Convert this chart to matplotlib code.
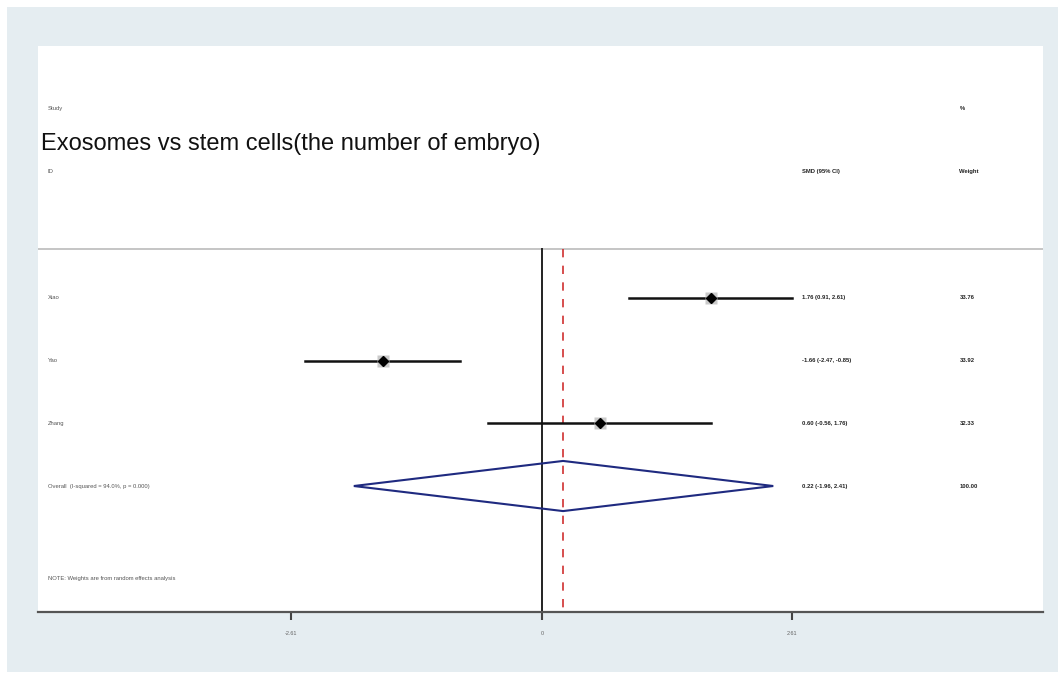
import matplotlib.pyplot as plt
from matplotlib.patches import Rectangle, Polygon

plt.rcParams['font.family'] = ['Liberation Sans', 'DejaVu Sans']

studies = ['Xiao', 'Yao', 'Zhang']
smd = [1.76, -1.66, 0.60]
lower = [0.91, -2.47, -0.56]
upper = [2.61, -0.85, 1.76]
weights = [33.76, 33.92, 32.33]

overall_label = 'Overall  (I-squared = 94.0%, p = 0.000)'
overall = 0.22
overall_lo = -1.96
overall_hi = 2.41
overall_weight = 100.00

title = 'Exosomes vs stem cells(the number of embryo)'
note = 'NOTE: Weights are from random effects analysis'

W, H = 1058, 677
fig = plt.figure(figsize=(W / 100, H / 100), dpi=100)
fig.patch.set_facecolor('white')

# light blue-grey frame behind the plot region
bg = fig.add_axes([0, 0, 1, 1], zorder=0)
bg.set_axis_off()
bg.set_xlim(0, 1)
bg.set_ylim(0, 1)
bg.add_patch(Rectangle((7 / W, 5 / H), (W - 7) / W, (H - 12) / H,
                       facecolor='#e5edf1', edgecolor='none'))

ax = fig.add_axes([38 / W, (H - 612) / H, (1043 - 38) / W, (612 - 46) / H],
                  zorder=1)
ax.set_facecolor('white')
ax.set_xlim(-5.25, 5.22)
ax.set_ylim(5.01, -4.02)

for s in ['top', 'left', 'right']:
    ax.spines[s].set_visible(False)
ax.spines['bottom'].set_color('#555555')
ax.spines['bottom'].set_linewidth(1.6)

xmax = max(abs(v) for v in lower + upper)
ax.set_xticks([-xmax, 0, xmax])
ax.set_xticklabels([f'-{xmax:.2f}', '0', f'{xmax:.2f}'])
ax.tick_params(axis='x', length=6, width=1.5, color='#444444',
               labelsize=4, labelcolor='#666666', pad=8)
ax.set_yticks([])

col_study = -5.15
col_ci = 2.71
col_w = 4.35
txt = dict(fontsize=4.2, va='center')

# header
ax.text(col_study, -3.03, 'Study', color='#555555', **txt)
ax.text(col_study, -2.01, 'ID', color='#555555', **txt)
ax.text(col_ci, -2.01, 'SMD (95% CI)', color='#222222', fontweight='bold', **txt)
ax.text(col_w, -3.03, '%', color='#222222', fontweight='bold', **txt)
ax.text(col_w, -2.01, 'Weight', color='#222222', fontweight='bold', **txt)
ax.text(col_study - 0.07, -2.45, title, fontsize=17, va='center', color='#111111')

ax.axhline(-0.78, color='#bbbbbb', lw=1.2)

# reference lines
ax.plot([0, 0], [-0.78, 5.01], color='#222222', lw=1.4, zorder=2)
ax.plot([overall, overall], [-0.78, 5.01], color='#d03030', lw=1.2,
        ls=(0, (5, 5)), zorder=2)

for i, name in enumerate(studies):
    ax.plot([lower[i], upper[i]], [i, i], color='#111111', lw=1.8, zorder=3)
    ax.plot(smd[i], i, marker='s', ms=8, color='#bdbdbd', mec='none',
            alpha=0.8, zorder=3)
    ax.plot(smd[i], i, marker='D', ms=5.5, color='black', zorder=4)
    ax.text(col_study, i, name, color='#555555', **txt)
    ax.text(col_ci, i, f'{smd[i]:.2f} ({lower[i]:.2f}, {upper[i]:.2f})',
            color='#222222', fontweight='bold', **txt)
    ax.text(col_w, i, f'{weights[i]:.2f}', color='#222222',
            fontweight='bold', **txt)

# pooled estimate diamond
k = len(studies)
ax.add_patch(Polygon([[overall_lo, k], [overall, k - 0.4],
                      [overall_hi, k], [overall, k + 0.4]],
                     closed=True, fill=False, edgecolor='#1f2a80', lw=1.5,
                     zorder=4))
ax.text(col_study, k, overall_label, color='#555555', **txt)
ax.text(col_ci, k, f'{overall:.2f} ({overall_lo:.2f}, {overall_hi:.2f})',
        color='#222222', fontweight='bold', **txt)
ax.text(col_w, k, f'{overall_weight:.2f}', color='#222222',
        fontweight='bold', **txt)

ax.text(col_study, 4.48, note, color='#555555', **txt)

fig.savefig('out.png', dpi=100)
